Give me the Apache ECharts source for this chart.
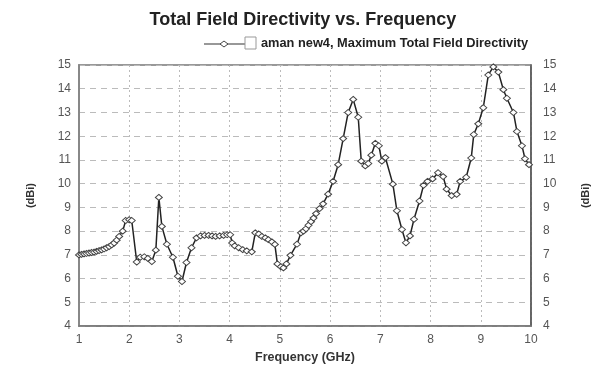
<!DOCTYPE html>
<html><head><meta charset="utf-8">
<script src="https://cdn.jsdelivr.net/npm/echarts@6/dist/echarts.min.js"></script>
<style>html,body{margin:0;padding:0;background:#fff}#c{width:606px;height:369px}</style>
</head><body><div id="c"></div>
<script>
const freq = [1.00,1.05,1.10,1.15,1.20,1.25,1.30,1.35,1.40,1.45,1.50,1.55,1.60,1.65,1.70,1.75,1.80,1.87,1.93,2.00,2.05,
2.15,2.22,2.30,2.37,2.45,2.53,2.59,2.65,2.75,2.87,2.97,3.05,3.14,3.24,3.34,3.42,3.50,3.58,3.65,3.72,3.80,3.88,3.95,4.01,
4.05,4.10,4.18,4.26,4.34,4.44,4.51,4.58,4.64,4.71,4.77,4.84,4.90,4.95,5.02,5.07,5.13,5.21,5.34,5.42,5.47,5.52,5.57,5.62,
5.67,5.72,5.79,5.86,5.96,6.06,6.16,6.26,6.36,6.46,6.56,6.62,6.70,6.76,6.82,6.90,6.97,7.03,7.10,7.25,7.33,7.43,7.51,7.59,
7.67,7.78,7.86,7.94,8.04,8.15,8.25,8.32,8.42,8.52,8.59,8.71,8.81,8.86,8.95,9.05,9.15,9.25,9.35,9.45,9.52,9.65,9.72,9.82,9.88,9.96];
const directivity = [7.00,7.02,7.04,7.06,7.08,7.10,7.12,7.15,7.18,7.21,7.25,7.30,7.35,7.42,7.50,7.62,7.78,8.00,8.45,8.48,8.45,
6.70,6.90,6.92,6.85,6.72,7.20,9.42,8.20,7.45,6.90,6.10,5.88,6.68,7.30,7.72,7.80,7.82,7.82,7.80,7.78,7.80,7.82,7.85,7.85,
7.50,7.38,7.30,7.22,7.17,7.13,7.93,7.88,7.78,7.72,7.64,7.55,7.44,6.62,6.50,6.45,6.62,6.98,7.45,7.93,8.00,8.10,8.25,8.40,
8.55,8.74,8.95,9.15,9.56,10.10,10.80,11.90,13.00,13.55,12.80,10.95,10.75,10.85,11.20,11.70,11.60,10.95,11.10,9.98,8.86,8.07,7.51,7.80,
8.50,9.27,9.93,10.10,10.20,10.46,10.30,9.77,9.50,9.55,10.10,10.27,11.08,12.07,12.52,13.20,14.58,14.92,14.70,13.96,13.60,13.00,12.20,11.60,11.05,10.80];
const yTicks = [4,5,6,7,8,9,10,11,12,13,14,15];
const title = 'Total Field Directivity vs. Frequency';
const seriesName = 'aman new4, Maximum Total Field Directivity';

const chart = echarts.init(document.getElementById('c'), null, {renderer:'canvas'});
const FONT = 'Liberation Sans, Arial, sans-serif';
const yAxisCommon = {
  type:'value', min:4, max:15, interval:1,
  name:'(dBi)', nameLocation:'middle', nameRotate:90,
  nameTextStyle:{color:'#333', fontSize:11, fontWeight:'bold', fontFamily:FONT},
  axisLabel:{color:'#555', fontSize:12, fontFamily:FONT, formatter:v=>String(v)},
  axisTick:{show:false},
};
chart.setOption({
  animation:false,
  title:{text:title, left:'center', top:6, textStyle:{fontSize:18, fontWeight:'bold', color:'#222', fontFamily:FONT}},
  grid:{left:79, right:75, top:65, bottom:37, show:true, borderColor:'#777', borderWidth:1.5},
  xAxis:{type:'value', min:1, max:10, interval:1,
    name:'Frequency (GHz)', nameLocation:'middle', nameGap:20,
    nameTextStyle:{color:'#333', fontSize:12.5, fontWeight:'bold', fontFamily:FONT},
    axisLabel:{color:'#555', fontSize:12, fontFamily:FONT, margin:8},
    axisLine:{lineStyle:{color:'#777', width:1.5}}, axisTick:{show:false},
    splitLine:{show:true, lineStyle:{color:'#bbb', type:[2,3], width:1}}},
  yAxis:[
    Object.assign({}, yAxisCommon, {position:'left', nameGap:43,
      axisLine:{show:true, lineStyle:{color:'#888', width:2}},
      splitLine:{show:true, lineStyle:{color:'#bbb', type:[6,5], width:1}}}),
    Object.assign({}, yAxisCommon, {position:'right', nameGap:49,
      axisLine:{show:true, lineStyle:{color:'#555', width:1.5}},
      axisLabel:{color:'#555', fontSize:12, fontFamily:FONT, margin:12},
      splitLine:{show:false}})
  ],
  series:[{
    name:seriesName, type:'line', yAxisIndex:0,
    data: freq.map((f,i)=>[f, directivity[i]]),
    symbol:'diamond', symbolSize:[7,6], showAllSymbol:true,
    lineStyle:{color:'#222', width:1.5},
    itemStyle:{color:'#fff', borderColor:'#444', borderWidth:1}
  }],
  graphic:[
    {type:'line', shape:{x1:204, y1:44, x2:245, y2:44}, style:{stroke:'#333', lineWidth:1.2}},
    {type:'polygon', shape:{points:[[224,41],[228,44],[224,47],[220,44]]}, style:{fill:'#fff', stroke:'#444', lineWidth:1}},
    {type:'rect', shape:{x:245, y:37, width:11, height:12}, style:{fill:'#fff', stroke:'#999', lineWidth:1}},
    {type:'text', left:261, top:37, style:{text:seriesName, fill:'#222', font:'bold 12.8px '+FONT}}
  ]
});
</script></body></html>
